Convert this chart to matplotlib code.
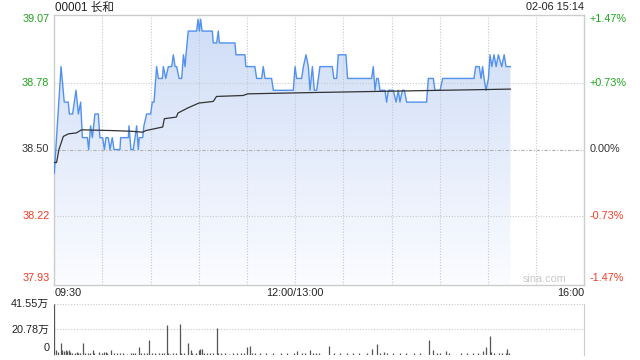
import matplotlib
matplotlib.use("Agg")
import matplotlib.pyplot as plt
import numpy as np
from matplotlib.colors import LinearSegmentedColormap

# ---------------- data ----------------
prev_close = 38.50
y_ticks = [37.93, 38.22, 38.50, 38.78, 39.07]
pct_labels = ["-1.47%", "-0.73%", "0.00%", "+0.73%", "+1.47%"]
x_tick_pos = [0, 150, 330]
x_tick_labels = ["09:30", "12:00/13:00", "16:00"]

price_min = [0, 4.2, 6.2, 8.7, 9.4, 11.4, 13.5, 15.0, 16.4, 17.5, 20.6, 21.4, 22.6, 23.7,
             25.3, 27.4, 28.4, 30.1, 31.2, 32.2, 33.6, 34.7, 36.1, 37.2, 40.9, 41.3, 46.1,
             46.5, 47.7, 49.2, 51.3, 52.3, 52.9, 55.0, 55.8, 57.5, 60.0, 61.0, 62.1, 63.7,
             64.8, 67.3, 67.9, 69.4, 71.0, 73.1, 74.1, 75.2, 76.2, 77.7, 79.3, 80.4, 81.4,
             82.0, 83.4, 88.6, 89.5, 90.3, 91.1, 92.0, 98.4, 99.0, 101.1, 102.1, 102.8,
             112.5, 113.1, 118.7, 119.3, 124.9, 126.0, 129.1, 130.1, 131.2, 135.3, 136.4,
             148.8, 149.9, 150.9, 154.0, 155.1, 156.7, 158.2, 159.2, 160.7, 161.9, 163.4,
             165.4, 173.1, 174.1, 175.8, 176.8, 181.6, 182.6, 197.6, 198.6, 199.7, 200.7,
             201.7, 202.8, 205.9, 206.9, 208.0, 211.1, 212.8, 214.2, 215.2, 216.7, 217.9,
             219.4, 231.8, 232.9, 236.0, 237.0, 240.2, 241.8, 261.3, 262.4, 264.6, 265.7,
             266.7, 267.6, 268.8, 270.3, 271.3, 272.4, 273.8, 275.1, 276.5, 278.6, 280.1,
             281.3, 284.0]
price_val = [38.40, 38.85, 38.70, 38.70, 38.65, 38.65, 38.75, 38.65, 38.70, 38.55, 38.55, 38.50,
             38.60, 38.55, 38.65, 38.65, 38.55, 38.55, 38.50, 38.55, 38.55, 38.50, 38.55, 38.50,
             38.50, 38.55, 38.55, 38.60, 38.50, 38.50, 38.60, 38.50, 38.55, 38.55, 38.60, 38.65,
             38.65, 38.70, 38.70, 38.85, 38.80, 38.80, 38.85, 38.80, 38.85, 38.85, 38.90, 38.85,
             38.85, 38.80, 38.80, 38.90, 38.85, 38.90, 39.00, 39.00, 39.05, 39.00, 39.05, 39.00,
             39.00, 38.95, 38.95, 39.00, 38.95, 38.95, 38.90, 38.90, 38.85, 38.85, 38.80, 38.80,
             38.85, 38.80, 38.80, 38.75, 38.75, 38.85, 38.80, 38.80, 38.85, 38.90, 38.85, 38.75,
             38.85, 38.75, 38.75, 38.85, 38.85, 38.80, 38.80, 38.90, 38.90, 38.80, 38.80, 38.85,
             38.75, 38.80, 38.80, 38.75, 38.75, 38.70, 38.75, 38.75, 38.70, 38.75, 38.70, 38.75,
             38.75, 38.70, 38.70, 38.80, 38.80, 38.75, 38.75, 38.80, 38.80, 38.85, 38.85, 38.80,
             38.85, 38.80, 38.75, 38.80, 38.90, 38.85, 38.90, 38.85, 38.90, 38.85, 38.90, 38.85,
             38.85]

avg_min = [0, 1.4, 2.9, 5.6, 8.7, 13.8, 16.9, 35.6, 48, 55, 57, 67.5, 68.5, 76, 77, 83, 90,
           99, 101, 117.5, 120.5, 165, 284]
avg_val = [38.445, 38.445, 38.50, 38.555, 38.566, 38.57, 38.583, 38.58, 38.577, 38.573, 38.58,
           38.595, 38.63, 38.637, 38.654, 38.675, 38.696, 38.703, 38.724, 38.728, 38.735,
           38.741, 38.755]

vol_min = [0, 1, 2, 4, 5, 6, 7, 8, 9, 10, 11, 13, 14, 15, 16, 18, 19, 21, 22, 24, 25, 28, 30,
           31, 32, 33, 35, 37, 39, 41, 43, 45, 48, 49, 50, 53, 54, 56, 58, 59, 61, 63, 65, 67,
           68, 70, 71, 72, 74, 76, 78, 79, 81, 83, 85, 86, 88, 90, 91, 92, 93, 95, 97, 99, 101,
           102, 104, 106, 109, 111, 114, 116, 118, 120, 122, 123, 125, 128, 132, 136, 141, 145,
           149, 151, 154, 156, 159, 161, 163, 165, 171, 174, 178, 182, 186, 190, 195, 198, 201,
           203, 205, 207, 211, 215, 219, 224, 228, 233, 236, 238, 240, 244, 246, 253, 257, 261,
           264, 267, 269, 271, 272, 274, 277, 279, 281, 282, 283]
vol_val = [41.55, 3.9, 2.5, 10.0, 3.9, 3.3, 3.9, 3.3, 3.9, 2.5, 1.7, 1.7, 2.5, 1.7, 1.7, 10.0,
           1.1, 1.1, 1.1, 3.9, 1.7, 2.5, 1.7, 1.9, 2.5, 1.1, 3.9, 1.1, 1.1, 1.1, 1.1, 0.6, 1.7,
           1.1, 1.1, 6.6, 1.1, 1.1, 1.7, 12.2, 1.1, 1.1, 1.7, 1.1, 1.7, 24.6, 1.1, 0.6, 1.1, 1.1,
           25.5, 1.7, 1.1, 10.0, 3.9, 1.7, 1.1, 3.9, 4.7, 4.4, 1.1, 1.1, 1.1, 1.1, 21.6, 1.7,
           1.1, 1.1, 0.6, 1.1, 1.1, 1.1, 1.1, 6.6, 7.5, 1.7, 1.1, 1.1, 1.1, 1.1, 1.1, 1.1, 1.1,
           3.0, 1.1, 1.1, 3.9, 1.7, 1.7, 1.1, 7.5, 1.1, 1.1, 1.1, 1.1, 1.1, 1.1, 4.7, 8.9, 1.7,
           2.2, 1.1, 1.1, 1.1, 1.1, 1.1, 1.1, 12.2, 3.9, 1.7, 1.1, 3.0, 1.1, 1.1, 1.1, 1.1, 1.7,
           3.3, 6.6, 15.5, 2.5, 1.1, 1.1, 1.1, 1.7, 4.7, 1.7]
vol_ticks = [0, 20.78, 41.55]
vol_tick_labels = ["0", "20.78万", "41.55万"]
title_text = "00001 长和"
time_text = "02-06 15:14"

# ---------------- style ----------------
FONT = ["Liberation Sans", "Noto Sans CJK SC", "DejaVu Sans"]
plt.rcParams["font.family"] = FONT
FS = 7.8
GREEN = "#1ea51e"
RED = "#f03c28"
DARK = "#333333"
GRID = "#c8c8c8"

fig = plt.figure(figsize=(6.4, 3.6), dpi=100)
ax = fig.add_axes([54.3 / 640, 1 - 284.5 / 360, 530 / 640, 270 / 360])
axv = fig.add_axes([54.3 / 640, 1 - 354.7 / 360, 530 / 640, 50.4 / 360])

ymin, ymax = y_ticks[0], y_ticks[-1]
ax.set_xlim(0, 330)
ax.set_ylim(ymin, ymax)

# gradient fill under price
cmap = LinearSegmentedColormap.from_list("g", ["#fbfcff", "#cddcf7"])
grad = np.linspace(0, 1, 256).reshape(-1, 1)
poly = ax.fill_between(price_min, price_val, ymin, color="none", lw=0)
im = ax.imshow(grad, extent=[0, 330, ymin, ymax], origin="lower", aspect="auto",
               cmap=cmap, zorder=1)
path = poly.get_paths()[0]
im.set_clip_path(path, transform=ax.transData)

# grid (drawn over the fill)
for xv in range(30, 330, 30):
    ax.axvline(xv, color=GRID, lw=0.8, ls=(0, (1, 1.5)), zorder=2)
for yv in y_ticks[1:-1]:
    if yv == prev_close:
        ax.axhline(yv, color="#b0b0b0", lw=0.8, ls=(0, (3, 1.5, 1, 1.5)), zorder=2)
    else:
        ax.axhline(yv, color=GRID, lw=0.8, ls=(0, (1, 1.5)), zorder=2)

ax.plot(price_min, price_val, color="#5291ee", lw=1.0, zorder=3)
ax.plot(avg_min, avg_val, color=DARK, lw=0.9, zorder=4)

for s in ax.spines.values():
    s.set_color("#cccccc")
    s.set_linewidth(1)
ax.set_xticks([])
ax.set_yticks([])

# y labels
colors = [RED, RED, DARK, GREEN, GREEN]
for i, (yv, c) in enumerate(zip(y_ticks, colors)):
    off = 0
    if i == 0:
        off = 6.5
    elif i == len(y_ticks) - 1:
        off = -5
    ax.annotate(f"{yv:.2f}", xy=(0, yv), xycoords=("axes fraction", "data"),
                xytext=(-3.5, off * 0.72), textcoords="offset points",
                ha="right", va="center", color=c, fontsize=FS)
    ax.annotate(pct_labels[i], xy=(1, yv), xycoords=("axes fraction", "data"),
                xytext=(4, off * 0.72), textcoords="offset points",
                ha="left", va="center", color=c, fontsize=FS)

# x labels
has = ["left", "center", "right"]
for xp, lab, ha in zip(x_tick_pos, x_tick_labels, has):
    ax.annotate(lab, xy=(xp, 0), xycoords=("data", "axes fraction"),
                xytext=(0, -6), textcoords="offset points",
                ha=ha, va="center", color="#222222", fontsize=FS)

fig.text(55 / 640, 1 - 7.5 / 360, title_text, ha="left", va="center", fontsize=8.4,
         color="#222222")
fig.text(583.5 / 640, 1 - 7.5 / 360, time_text, ha="right", va="center", fontsize=FS,
         color="#222222")
ax.text(0.966, 0.02, "sina.com", transform=ax.transAxes, ha="right", va="center",
        fontsize=FS, color="#c8c8c8")

# ---------------- volume ----------------
axv.set_xlim(0, 330)
axv.set_ylim(0, vol_ticks[-1])
axv.vlines(vol_min, 0, vol_val, color="#555555", lw=0.9, zorder=3)
for yv in vol_ticks:
    axv.axhline(yv, color=GRID, lw=0.8, ls=(0, (1, 1.5)), zorder=0.5)
axv.spines["top"].set_visible(False)
axv.spines["bottom"].set_visible(False)
axv.spines["left"].set_color("#cccccc")
axv.spines["right"].set_color("#cccccc")
axv.set_xticks([])
axv.set_yticks([])
for yv, lab in zip(vol_ticks, vol_tick_labels):
    off = 4.5 if yv == 0 else 0
    axv.annotate(lab, xy=(0, yv), xycoords=("axes fraction", "data"),
                 xytext=(-3.5, off), textcoords="offset points",
                 ha="right", va="center", color="#222222", fontsize=FS)

fig.savefig("out.png", dpi=100)
